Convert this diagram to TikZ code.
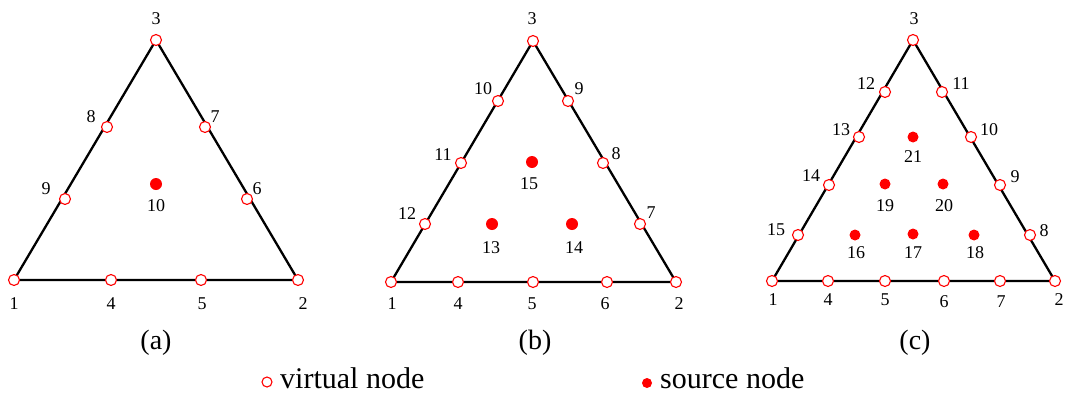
\documentclass[tikz,border=0pt]{standalone}
\usepackage{fontspec}
\setmainfont{Liberation Serif}
\pgfdeclarelayer{back}
\pgfsetlayers{back,main}
\tikzset{
  virt/.style={circle,draw=red,fill=white,line width=1.1pt,minimum size=11pt,inner sep=0pt},
  src/.style={circle,fill=red,minimum size=12pt,inner sep=0pt},
  lbl/.style={font=\fontsize{18}{18}\selectfont,inner sep=0pt},
  capt/.style={font=\fontsize{28}{28}\selectfont,inner sep=0pt},
  legtext/.style={font=\fontsize{30}{30}\selectfont,inner sep=0pt,anchor=base west},
  tri/.style={line width=2.3pt,line join=round},
}

\begin{document}
\begin{tikzpicture}[x=1pt,y=-1pt]
 \useasboundingbox (0,0) rectangle (1065,394);

 % (a) sides cut in three
 \foreach \n/\x/\y/\lx/\ly in {1/14/280/14/304, 2/298/280/303/304, 3/156/40/156/19,
     4/111/280/111/304, 5/201/280/202/304, 6/247/199/257/189,
     7/205/127/215/117, 8/107/127/91/117, 9/65/199/46/189}{
   \node[virt] (a\n) at (\x,\y) {};
   \node[lbl] (a\n-l) at (\lx,\ly) {\n};}
 \node[src] (a10) at (156,184) {};
 \node[lbl] (a10-l) at (156,206) {10};
 \begin{pgfonlayer}{back}
   \draw[tri] (a1.center) -- (a2.center) -- (a3.center) -- cycle;
 \end{pgfonlayer}
 \node[capt] (capa) at (156,343) {(a)};

 % (b) sides cut in four
 \foreach \n/\x/\y/\lx/\ly in {1/391/282/392/304, 2/676/282/679/304, 3/533/41/532/19,
     4/458/282/458/304, 5/533/282/532/304, 6/607/282/605/304,
     7/640/224/651/213, 8/603/163/616/154, 9/568/101/579/89,
     10/498/101/483/89, 11/461/163/443/155, 12/425/224/407/214}{
   \node[virt] (b\n) at (\x,\y) {};
   \node[lbl] (b\n-l) at (\lx,\ly) {\n};}
 \foreach \n/\x/\y/\lx/\ly in {13/492/224/491/248, 14/572/224/574/248, 15/532/162/529/184}{
   \node[src] (b\n) at (\x,\y) {};
   \node[lbl] (b\n-l) at (\lx,\ly) {\n};}
 \begin{pgfonlayer}{back}
   \draw[tri] (b1.center) -- (b2.center) -- (b3.center) -- cycle;
 \end{pgfonlayer}
 \node[capt] (capb) at (535,343) {(b)};

 % (c) sides cut in five
 \foreach \n/\x/\y/\lx/\ly in {1/772/281/773/300, 2/1055/281/1059/300, 3/913/40/914/19,
     4/828/281/828/300, 5/885/281/885/300, 6/944/281/944/302, 7/1000/281/1001/302,
     8/1030/235/1044/231, 9/1000/185/1015/177, 10/971/137/989/130, 11/942/92/961/84,
     12/885/92/866/84, 13/859/137/841/130, 14/829/185/811/176, 15/798/235/776/230}{
   \node[virt] (c\n) at (\x,\y) {};
   \node[lbl] (c\n-l) at (\lx,\ly) {\n};}
 \foreach \n/\x/\y/\lx/\ly in {16/855/235/856/253, 17/913/234/913/253, 18/974/235/975/253,
     19/885/184/885/206, 20/943/184/944/206, 21/913/137/913/157}{
   \node[src,minimum size=11pt] (c\n) at (\x,\y) {};
   \node[lbl] (c\n-l) at (\lx,\ly) {\n};}
 \begin{pgfonlayer}{back}
   \draw[tri] (c1.center) -- (c2.center) -- (c3.center) -- cycle;
 \end{pgfonlayer}
 \node[capt] (capc) at (915,343) {(c)};

 % legend
 \node[virt,minimum size=10pt] (legv) at (267,382) {};
 \node[legtext] (legvt) at (280,388) {virtual node};
 \node[src,minimum size=10pt] (legs) at (647,383) {};
 \node[legtext] (legst) at (660,388) {source node};
\end{tikzpicture}
\end{document}
